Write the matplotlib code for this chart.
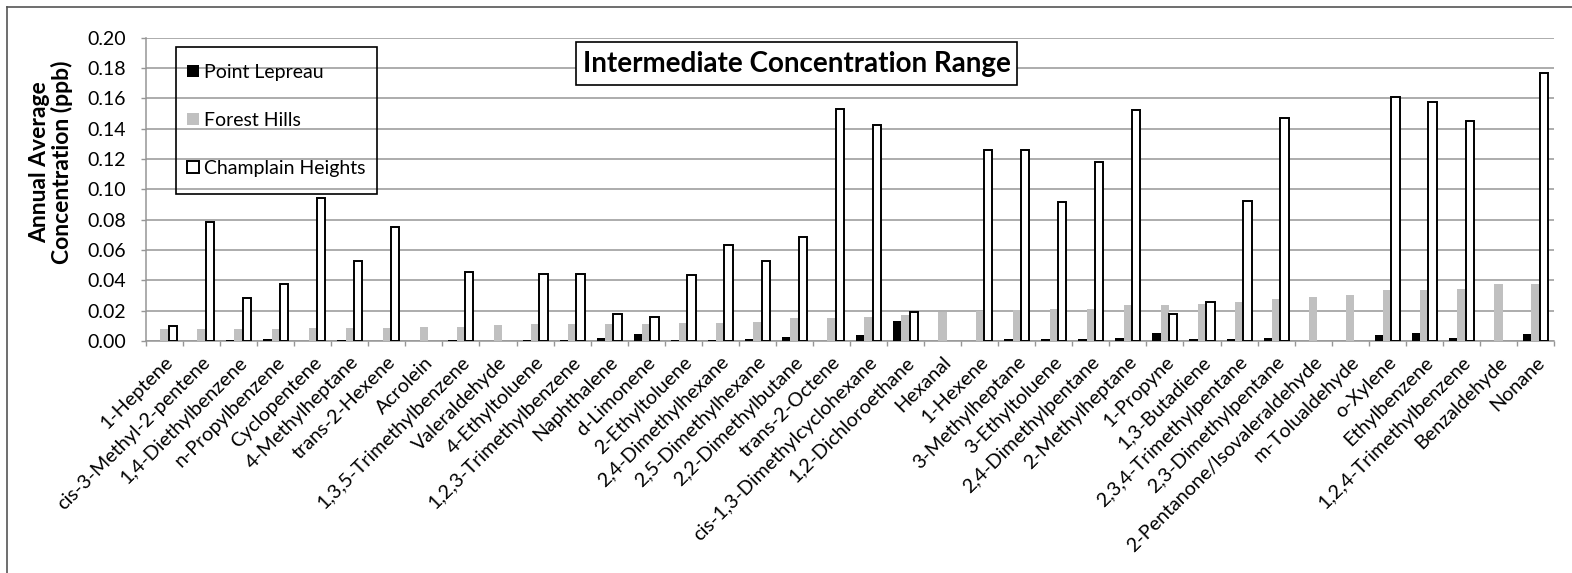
import numpy as np
import matplotlib
matplotlib.use("Agg")
import matplotlib.pyplot as plt
from matplotlib.lines import Line2D
from matplotlib.patches import Rectangle

plt.rcParams['font.family'] = ['Lato', 'DejaVu Sans']

compounds = [
    "1-Heptene", "cis-3-Methyl-2-pentene", "1,4-Diethylbenzene", "n-Propylbenzene",
    "Cyclopentene", "4-Methylheptane", "trans-2-Hexene", "Acrolein",
    "1,3,5-Trimethylbenzene", "Valeraldehyde", "4-Ethyltoluene",
    "1,2,3-Trimethylbenzene", "Naphthalene", "d-Limonene", "2-Ethyltoluene",
    "2,4-Dimethylhexane", "2,5-Dimethylhexane", "2,2-Dimethylbutane",
    "trans-2-Octene", "cis-1,3-Dimethylcyclohexane", "1,2-Dichloroethane",
    "Hexanal", "1-Hexene", "3-Methylheptane", "3-Ethyltoluene",
    "2,4-Dimethylpentane", "2-Methylheptane", "1-Propyne", "1,3-Butadiene",
    "2,3,4-Trimethylpentane", "2,3-Dimethylpentane", "2-Pentanone/Isovaleraldehyde",
    "m-Tolualdehyde", "o-Xylene", "Ethylbenzene", "1,2,4-Trimethylbenzene",
    "Benzaldehyde", "Nonane",
]

# nan = no bar drawn for that site
nan = np.nan
point_lepreau = [
    nan, nan, 0.0005, 0.001, 0.0003, 0.0005, nan, nan, 0.0005, nan, 0.0005,
    0.0007, 0.002, 0.0046, 0.0005, 0.0006, 0.001, 0.0024, nan, 0.0037, 0.0132,
    nan, nan, 0.0014, 0.001, 0.001, 0.002, 0.0053, 0.001, 0.0012, 0.0022,
    nan, nan, 0.0037, 0.005, 0.0022, nan, 0.0046,
]

forest_hills = [
    0.0077, 0.0077, 0.0078, 0.0078, 0.0085, 0.0085, 0.0086, 0.0094, 0.0094,
    0.0105, 0.011, 0.0112, 0.0115, 0.0115, 0.012, 0.012, 0.0125, 0.015, 0.0151,
    0.0158, 0.0169, 0.019, 0.0195, 0.0202, 0.0208, 0.021, 0.024, 0.024, 0.0243,
    0.0257, 0.0276, 0.0287, 0.0303, 0.0338, 0.0338, 0.034, 0.0373, 0.0375,
]

champlain_heights = [
    0.0097, 0.0783, 0.0285, 0.0373, 0.094, 0.0526, 0.0752, nan, 0.0456, nan,
    0.0443, 0.0439, 0.0178, 0.0158, 0.0432, 0.063, 0.053, 0.0686, 0.1533,
    0.1425, 0.0193, nan, 0.1257, 0.126, 0.0919, 0.118, 0.152, 0.018, 0.0259,
    0.0923, 0.147, nan, nan, 0.1607, 0.1575, 0.145, nan, 0.177,
]

W, H = 1572, 573
fig = plt.figure(figsize=(W / 100, H / 100), dpi=100)
ax = fig.add_axes([146 / W, 1 - 341 / H, (1554 - 146) / W, (341 - 37.7) / H])

x = np.arange(len(compounds))
bw = 0.225
ax.bar(x - bw, point_lepreau, bw, color="black", label="Point Lepreau", zorder=3)
ax.bar(x, forest_hills, bw, color="#c0c0c0", label="Forest Hills", zorder=3)
ax.bar(x + bw, champlain_heights, bw, color="white", edgecolor="black",
       linewidth=1.4, label="Champlain Heights", zorder=3)

ax.set_xlim(-0.5, len(compounds) - 0.5)
ax.set_ylim(0, 0.2)
yt = np.arange(0, 0.201, 0.02)
ax.set_yticks(yt)
ax.set_yticklabels([f"{v:.2f}" for v in yt], fontsize=14)
ax.yaxis.grid(True, color="#969696", linewidth=1.1, zorder=0)
ax.set_axisbelow(True)

ax.set_xticks(x)
ax.set_xticklabels(compounds, rotation=45, ha="right", rotation_mode="anchor",
                   fontsize=14.2)
ax.set_xticks(np.arange(-0.5, len(compounds)), minor=True)
ax.tick_params(axis="x", which="major", length=0, pad=9)
ax.tick_params(axis="x", which="minor", length=3.6, color="#969696", width=1)
ax.tick_params(axis="y", length=3.6, color="#969696", width=1, pad=11)

for s in ["top", "right"]:
    ax.spines[s].set_visible(False)
for s in ["left", "bottom"]:
    ax.spines[s].set_color("#969696")
    ax.spines[s].set_linewidth(1.1)

fig.text(51 / W, 1 - 162 / H, "Annual Average\nConcentration (ppb)",
         rotation=90, ha="center", va="center", fontsize=16.5,
         fontweight="bold", linespacing=1.0)

# legend without its own frame; the frame is drawn as a box at the reference spot
leg = ax.legend(loc="center left", bbox_to_anchor=(187 / W, 1 - 120.5 / H),
                bbox_transform=fig.transFigure, fontsize=14, frameon=False,
                handlelength=0.6, handleheight=0.6, handletextpad=0.3,
                labelspacing=1.6, borderpad=0, borderaxespad=0)
fig.patches.append(Rectangle((176 / W, 1 - 194 / H), (377 - 176) / W,
                             (194 - 47) / H, transform=fig.transFigure,
                             facecolor="none", edgecolor="black",
                             linewidth=1.2, zorder=5))

fig.patches.append(Rectangle((576 / W, 1 - 85 / H), (1017 - 576) / W,
                             (85 - 42) / H, transform=fig.transFigure,
                             facecolor="white", edgecolor="black",
                             linewidth=1.2, zorder=5))
fig.text(796.5 / W, 1 - 64 / H, "Intermediate Concentration Range",
         ha="center", va="center", fontsize=20, fontweight="bold", zorder=6)

# outer chart border (only top and left visible in the crop)
fig.add_artist(Line2D([7.3 / W, 1], [1 - 7.3 / H, 1 - 7.3 / H],
                      color="#555555", linewidth=1.2))
fig.add_artist(Line2D([7.3 / W, 7.3 / W], [0, 1 - 7.3 / H],
                      color="#555555", linewidth=1.2))

fig.savefig("out.png", dpi=100)
